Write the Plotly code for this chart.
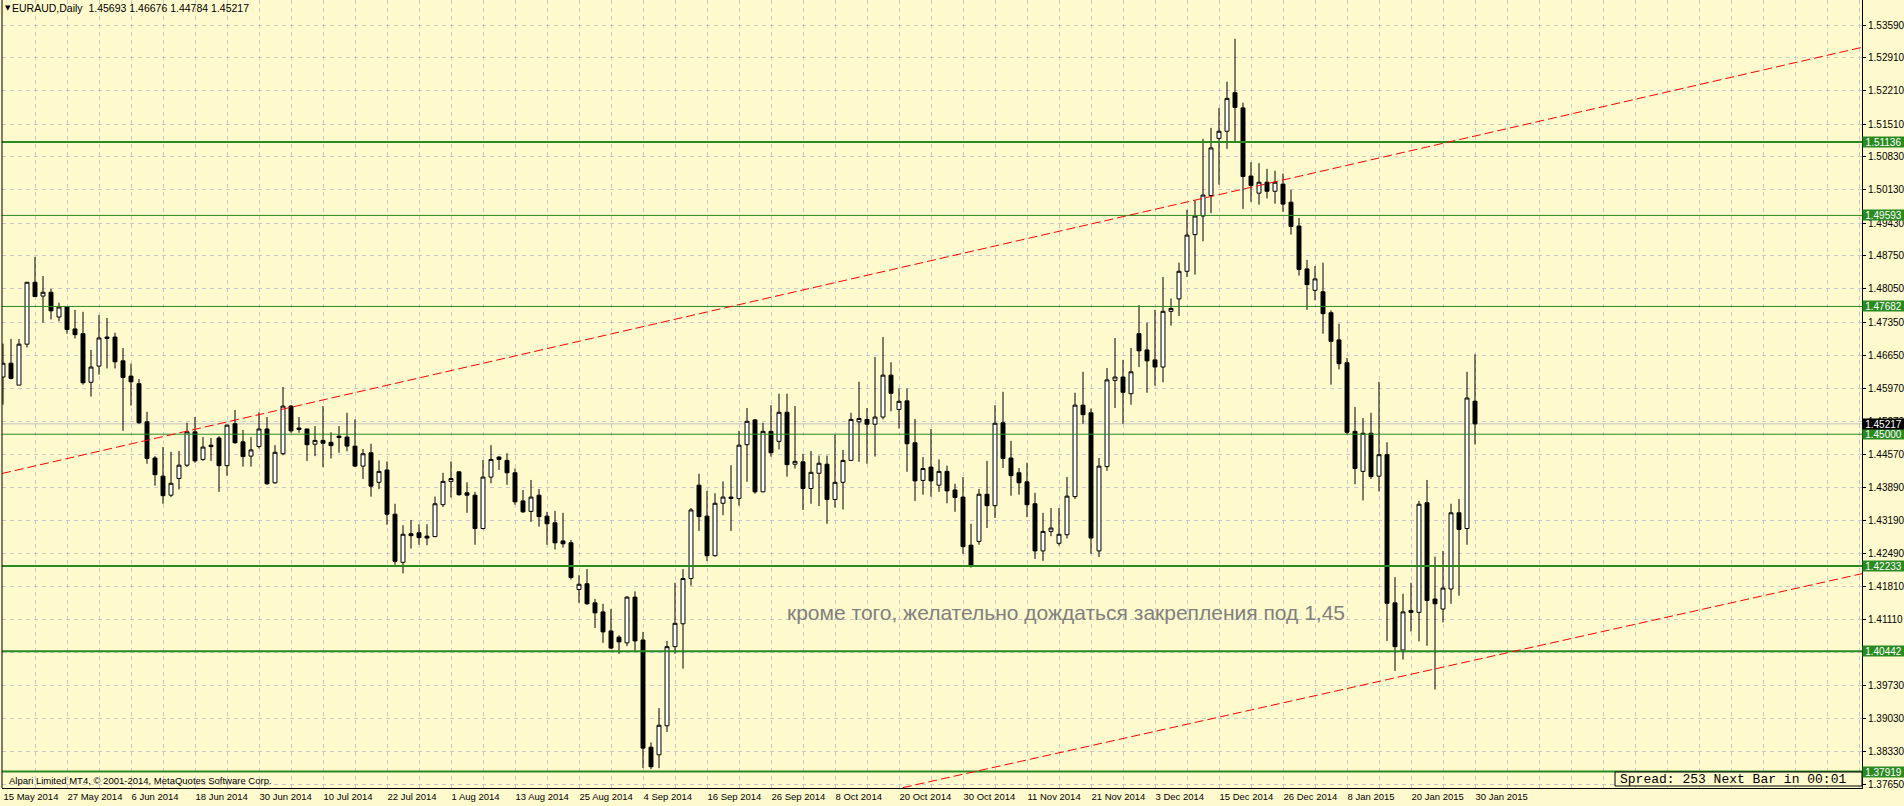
import plotly.graph_objects as go

# ---------------- data (EURAUD daily) ----------------
opens = [1.4620, 1.4649, 1.4603, 1.4689, 1.4819, 1.4790, 1.4798, 1.4746, 1.4768, 1.4721,
         1.4711, 1.4609, 1.4643, 1.4704, 1.4704, 1.4654, 1.4622, 1.4606, 1.4526, 1.4450,
         1.4412, 1.4372, 1.4407, 1.4435, 1.4505, 1.4447, 1.4477, 1.4492, 1.4434, 1.4522,
         1.4484, 1.4454, 1.4474, 1.4511, 1.4398, 1.4459, 1.4559, 1.4513, 1.4511, 1.4479,
         1.4487, 1.4483, 1.4496, 1.4494, 1.4475, 1.4433, 1.4461, 1.4399, 1.4425, 1.4332,
         1.4231, 1.4291, 1.4293, 1.4286, 1.4285, 1.4352, 1.4401, 1.4421, 1.4377, 1.4372,
         1.4302, 1.4410, 1.4452, 1.4445, 1.4419, 1.4360, 1.4338, 1.4372, 1.4328, 1.4314,
         1.4276, 1.4272, 1.4174, 1.4186, 1.4146, 1.4127, 1.4087, 1.4074, 1.4062, 1.4158,
         1.4068, 1.3843, 1.3827, 1.3888, 1.4054, 1.4102, 1.4197, 1.4393, 1.4328, 1.4245,
         1.4355, 1.4368, 1.4365, 1.4478, 1.4530, 1.4379, 1.4506, 1.4485, 1.4546, 1.4437,
         1.4442, 1.4386, 1.4418, 1.4437, 1.4363, 1.4399, 1.4445, 1.4526, 1.4531, 1.4521,
         1.4536, 1.4624, 1.4552, 1.4570, 1.4482, 1.4403, 1.4431, 1.4393, 1.4422, 1.4383,
         1.4368, 1.4267, 1.4275, 1.4374, 1.4350, 1.4524, 1.4450, 1.4419, 1.4400, 1.4354,
         1.4255, 1.4296, 1.4271, 1.4289, 1.4369, 1.4561, 1.4545, 1.4255, 1.4432, 1.4613,
         1.4620, 1.4585, 1.4711, 1.4677, 1.4656, 1.4641, 1.4758, 1.4784, 1.4842, 1.4919,
         1.4958, 1.5001, 1.5121, 1.5136, 1.5217, 1.5185, 1.5042, 1.5006, 1.5029, 1.5010,
         1.5025, 1.4987, 1.4937, 1.4847, 1.4802, 1.4799, 1.4755, 1.4698, 1.4650, 1.4506,
         1.4422, 1.4502, 1.4412, 1.4457, 1.4146, 1.4047, 1.4130, 1.4126, 1.4356, 1.4154,
         1.4133, 1.4175, 1.4335, 1.4302, 1.45693]
highs = [1.4690, 1.4700, 1.4700, 1.4819, 1.4872, 1.4832, 1.4805, 1.4776, 1.4768, 1.4761,
         1.4757, 1.4677, 1.4750, 1.4744, 1.4713, 1.4681, 1.4648, 1.4616, 1.4547, 1.4454,
         1.4473, 1.4463, 1.4465, 1.4524, 1.4536, 1.4494, 1.4492, 1.4496, 1.4520, 1.4551,
         1.4509, 1.4494, 1.4546, 1.4536, 1.4477, 1.4599, 1.4561, 1.4536, 1.4511, 1.4517,
         1.4559, 1.4504, 1.4517, 1.4545, 1.4531, 1.4469, 1.4480, 1.4445, 1.4443, 1.4354,
         1.4309, 1.4320, 1.4311, 1.4311, 1.4369, 1.4419, 1.4443, 1.4422, 1.4399, 1.4379,
         1.4446, 1.4477, 1.4454, 1.4460, 1.4428, 1.4383, 1.4404, 1.4385, 1.4337, 1.4339,
         1.4335, 1.4278, 1.4204, 1.4217, 1.4154, 1.4144, 1.4133, 1.4078, 1.4160, 1.4170,
         1.4085, 1.3853, 1.3925, 1.4066, 1.4188, 1.4217, 1.4345, 1.4417, 1.4381, 1.4376,
         1.4401, 1.4435, 1.4507, 1.4555, 1.4532, 1.4524, 1.4561, 1.4585, 1.4585, 1.4559,
         1.4459, 1.4465, 1.4455, 1.4455, 1.4499, 1.4467, 1.4545, 1.4610, 1.4555, 1.4662,
         1.4704, 1.4651, 1.4596, 1.4596, 1.4532, 1.4452, 1.4511, 1.4447, 1.4434, 1.4396,
         1.4410, 1.4312, 1.4385, 1.4444, 1.4561, 1.4589, 1.4486, 1.4429, 1.4440, 1.4377,
         1.4335, 1.4345, 1.4345, 1.4410, 1.4587, 1.4631, 1.4554, 1.4450, 1.4639, 1.4702,
         1.4656, 1.4681, 1.4771, 1.4734, 1.4761, 1.4830, 1.4785, 1.4860, 1.4971, 1.4991,
         1.5120, 1.5143, 1.5185, 1.5240, 1.5330, 1.5196, 1.5071, 1.5069, 1.5057, 1.5053,
         1.5047, 1.5013, 1.4954, 1.4866, 1.4853, 1.4860, 1.4760, 1.4732, 1.4660, 1.4557,
         1.4534, 1.4545, 1.4610, 1.4483, 1.4200, 1.4165, 1.4188, 1.4360, 1.4404, 1.4243,
         1.4255, 1.4354, 1.4364, 1.4631, 1.46676]
lows = [1.4562, 1.4615, 1.4603, 1.4682, 1.4788, 1.4734, 1.4741, 1.4737, 1.4711, 1.4701,
        1.4604, 1.4579, 1.4625, 1.4638, 1.4638, 1.4507, 1.4560, 1.4522, 1.4438, 1.4392,
        1.4354, 1.4368, 1.4384, 1.4431, 1.4440, 1.4444, 1.4444, 1.4379, 1.4413, 1.4480,
        1.4432, 1.4432, 1.4470, 1.4394, 1.4396, 1.4456, 1.4503, 1.4503, 1.4444, 1.4454,
        1.4431, 1.4449, 1.4461, 1.4464, 1.4431, 1.4406, 1.4369, 1.4385, 1.4310, 1.4226,
        1.4208, 1.4260, 1.4268, 1.4267, 1.4284, 1.4347, 1.4367, 1.4371, 1.4335, 1.4268,
        1.4300, 1.4397, 1.4425, 1.4394, 1.4352, 1.4335, 1.4316, 1.4306, 1.4268, 1.4258,
        1.4262, 1.4195, 1.4146, 1.4142, 1.4093, 1.4062, 1.4049, 1.4039, 1.4055, 1.4045,
        1.3799, 1.3797, 1.3799, 1.3875, 1.4039, 1.4008, 1.4182, 1.4297, 1.4234, 1.4243,
        1.4330, 1.4297, 1.4350, 1.4400, 1.4375, 1.4378, 1.4453, 1.4468, 1.4411, 1.4428,
        1.4341, 1.4354, 1.4349, 1.4312, 1.4346, 1.4342, 1.4445, 1.4442, 1.4438, 1.4453,
        1.4531, 1.4548, 1.4512, 1.4421, 1.4360, 1.4373, 1.4369, 1.4379, 1.4355, 1.4337,
        1.4249, 1.4220, 1.4268, 1.4303, 1.4324, 1.4429, 1.4371, 1.4373, 1.4326, 1.4238,
        1.4234, 1.4286, 1.4266, 1.4281, 1.4364, 1.4522, 1.4249, 1.4242, 1.4423, 1.4555,
        1.4522, 1.4562, 1.4641, 1.4587, 1.4602, 1.4609, 1.4728, 1.4748, 1.4830, 1.4835,
        1.4905, 1.4964, 1.5024, 1.5099, 1.5114, 1.4973, 1.4988, 1.4982, 1.4995, 1.4984,
        1.4967, 1.4919, 1.4833, 1.4761, 1.4781, 1.4711, 1.4604, 1.4636, 1.4500, 1.4395,
        1.4361, 1.4406, 1.4380, 1.4066, 1.4003, 1.4027, 1.4086, 1.4065, 1.4056, 1.3964,
        1.4105, 1.4144, 1.4161, 1.4268, 1.44784]
closes = [1.4649, 1.4617, 1.4689, 1.4819, 1.4789, 1.4798, 1.4759, 1.4767, 1.4720, 1.4709,
          1.4608, 1.4641, 1.4702, 1.4701, 1.4652, 1.4619, 1.4610, 1.4524, 1.4449, 1.4415,
          1.4371, 1.4397, 1.4435, 1.4505, 1.4444, 1.4473, 1.4474, 1.4434, 1.4519, 1.4482,
          1.4453, 1.4467, 1.4511, 1.4396, 1.4462, 1.4559, 1.4507, 1.4510, 1.4478, 1.4487,
          1.4481, 1.4476, 1.4493, 1.4475, 1.4433, 1.4459, 1.4391, 1.4422, 1.4332, 1.4233,
          1.4290, 1.4287, 1.4283, 1.4282, 1.4354, 1.4401, 1.4407, 1.4373, 1.4372, 1.4302,
          1.4410, 1.4447, 1.4447, 1.4419, 1.4358, 1.4337, 1.4368, 1.4327, 1.4312, 1.4272,
          1.4270, 1.4199, 1.4185, 1.4144, 1.4125, 1.4085, 1.4051, 1.4064, 1.4158, 1.4066,
          1.3841, 1.3802, 1.3889, 1.4054, 1.4103, 1.4197, 1.4341, 1.4327, 1.4245, 1.4355,
          1.4368, 1.4365, 1.4477, 1.4527, 1.4379, 1.4506, 1.4461, 1.4546, 1.4436, 1.4443,
          1.4386, 1.4420, 1.4439, 1.4363, 1.4399, 1.4445, 1.4531, 1.4533, 1.4521, 1.4536,
          1.4624, 1.4586, 1.4569, 1.4480, 1.4402, 1.4428, 1.4402, 1.4422, 1.4381, 1.4367,
          1.4264, 1.4224, 1.4374, 1.4350, 1.4523, 1.4449, 1.4413, 1.4398, 1.4352, 1.4255,
          1.4296, 1.4303, 1.4290, 1.4370, 1.4561, 1.4541, 1.4282, 1.4433, 1.4614, 1.4620,
          1.4588, 1.4631, 1.4675, 1.4654, 1.4641, 1.4758, 1.4764, 1.4842, 1.4918, 1.4958,
          1.5002, 1.5101, 1.5136, 1.5205, 1.5186, 1.5041, 1.5022, 1.5029, 1.5010, 1.5029,
          1.4983, 1.4936, 1.4846, 1.4814, 1.4826, 1.4753, 1.4695, 1.4648, 1.4504, 1.4428,
          1.4502, 1.4411, 1.4457, 1.4145, 1.4054, 1.4127, 1.4126, 1.4353, 1.4151, 1.4144,
          1.4177, 1.4335, 1.4300, 1.4576, 1.45217]

date_labels = ["15 May 2014", "27 May 2014", "6 Jun 2014", "18 Jun 2014", "30 Jun 2014",
               "10 Jul 2014", "22 Jul 2014", "1 Aug 2014", "13 Aug 2014", "25 Aug 2014",
               "4 Sep 2014", "16 Sep 2014", "26 Sep 2014", "8 Oct 2014", "20 Oct 2014",
               "30 Oct 2014", "11 Nov 2014", "21 Nov 2014", "3 Dec 2014", "15 Dec 2014",
               "26 Dec 2014", "8 Jan 2015", "20 Jan 2015", "30 Jan 2015"]
label_every = 8          # bars between date labels
grid_every = 4           # bars between vertical grid lines

price_ticks = [1.53590, 1.52910, 1.52210, 1.51510, 1.50830, 1.50130, 1.49430, 1.48750,
               1.48050, 1.47350, 1.46650, 1.45970, 1.45270, 1.44570, 1.43890, 1.43190,
               1.42490, 1.41810, 1.41110, 1.40420, 1.39730, 1.39030, 1.38330, 1.37650]

level_prices = [1.51136, 1.49593, 1.47682, 1.45000, 1.42233, 1.40442, 1.37919]
level_thick = [True, False, False, False, True, True, True]
bid_price = 1.45217

upper_trend = [(0, 1.4418), (184, 1.5126)]
lower_trend = [(113, 1.3760), (184, 1.4026)]

header = "EURAUD,Daily  1.45693 1.46676 1.44784 1.45217"
copyright_text = "Alpari Limited MT4, \u00a9 2001-2014, MetaQuotes Software Corp."
spread_text = "Spread: 253 Next Bar in 00:01"
note_text = "кроме того, желательно дождаться закрепления под 1,45"
note_pos = (132.9, 1.4125)

# ---------------- styling ----------------
W, H = 1904, 806
ML, MR, MT, MB = 2, 42, 0, 18
BG = "#FFFACD"
GRID = "#C8C8CC"
GREEN = "#2A8A22"
FONT = "Liberation Sans"

n = len(closes)
xs = list(range(n))
x_min = -1 / 8
x_max = x_min + (W - ML - MR) / 8
y_min, y_max = 1.37573, 1.54115

fig = go.Figure()
fig.add_trace(go.Candlestick(
    x=xs, open=opens, high=highs, low=lows, close=closes,
    increasing=dict(line=dict(color="black", width=1), fillcolor="white"),
    decreasing=dict(line=dict(color="black", width=1), fillcolor="black"),
    whiskerwidth=0, showlegend=False, hoverinfo="skip"))

n_grid = int(x_max) + 1
major_vals = [i for i in range(0, n_grid, label_every)]
major_text = [date_labels[k] if k < len(date_labels) else "" for k in range(len(major_vals))]
minor_vals = [i for i in range(grid_every, n_grid, label_every)]

shapes = []
# horizontal level lines
for p, thick in zip(level_prices, level_thick):
    shapes.append(dict(type="line", xref="paper", x0=0, x1=1, yref="y", y0=p, y1=p,
                       line=dict(color=GREEN, width=2 if thick else 1), layer="above"))
# bid line
shapes.append(dict(type="line", xref="paper", x0=0, x1=1, yref="y", y0=bid_price, y1=bid_price,
                   line=dict(color="#C0C0C0", width=1), layer="below"))


def trend_shape(pts):
    (xa, ya), (xb, yb) = pts
    k = (yb - ya) / (xb - xa)
    return dict(type="line", xref="x", yref="y", x0=x_min, x1=x_max,
                y0=ya + k * (x_min - xa), y1=ya + k * (x_max - xa),
                line=dict(color="#FF0000", width=1, dash="9px,4px"), layer="above")


shapes.append(trend_shape(upper_trend))
shapes.append(trend_shape(lower_trend))
# left border
shapes.append(dict(type="line", xref="paper", x0=0, x1=0, yref="paper", y0=0, y1=1,
                   line=dict(color="black", width=1)))
# spread box
PW = W - ML - MR
PH = H - MT - MB
shapes.append(dict(type="rect", xref="paper", yref="paper",
                   x0=(1615 - ML) / PW, x1=1.0, y0=(PH - 786) / PH, y1=(PH - 772) / PH,
                   line=dict(color="black", width=1), fillcolor=BG, layer="above"))

annotations = []
for p in level_prices:
    annotations.append(dict(xref="paper", x=1, xanchor="left", yref="y", y=p, yanchor="middle",
                            text=f"{p:.5f}", showarrow=False, bgcolor=GREEN, width=41, height=10,
                            borderpad=0, font=dict(family=FONT, size=10, color="white")))
annotations.append(dict(xref="paper", x=1, xanchor="left", yref="y", y=bid_price, yanchor="middle",
                        text=f"{bid_price:.5f}", showarrow=False, bgcolor="black", width=41, height=10,
                        borderpad=0, font=dict(family=FONT, size=10, color="white")))
# header
annotations.append(dict(xref="paper", yref="paper", x=0, y=1, xanchor="left", yanchor="middle",
                        xshift=1, yshift=-8, text="\u25BC", showarrow=False,
                        font=dict(family="DejaVu Sans", size=7, color="black")))
annotations.append(dict(xref="paper", yref="paper", x=0, y=1, xanchor="left", yanchor="middle",
                        xshift=8, yshift=-8, text=header, showarrow=False,
                        font=dict(family=FONT, size=10.5, color="black")))
annotations.append(dict(xref="paper", yref="paper", x=0, y=0, xanchor="left", yanchor="middle",
                        xshift=5, yshift=(PH - 780), text=copyright_text, showarrow=False,
                        font=dict(family=FONT, size=9.5, color="black")))
annotations.append(dict(xref="paper", yref="paper", x=(1618 - ML) / PW, y=(PH - 779) / PH,
                        xanchor="left", yanchor="middle", text=spread_text, showarrow=False,
                        font=dict(family="Liberation Mono", size=13, color="black")))
annotations.append(dict(xref="x", yref="y", x=note_pos[0], y=note_pos[1], xanchor="center",
                        yanchor="middle", text=note_text, showarrow=False,
                        font=dict(family=FONT, size=21, color="#808080")))

fig.update_layout(
    width=W, height=H, margin=dict(l=ML, r=MR, t=MT, b=MB, pad=0),
    paper_bgcolor=BG, plot_bgcolor=BG,
    shapes=shapes, annotations=annotations,
    boxgap=0.3, boxgroupgap=0.3,
    xaxis=dict(range=[x_min, x_max], rangeslider=dict(visible=False),
               tickmode="array", tickvals=major_vals, ticktext=major_text,
               ticklabelposition="outside right",
               showgrid=True, gridcolor=GRID, griddash="4px,4px", gridwidth=1,
               minor=dict(tickvals=minor_vals, showgrid=True, gridcolor=GRID,
                          griddash="4px,4px", gridwidth=1),
               showline=True, linecolor="black", linewidth=1, ticks="", zeroline=False,
               tickfont=dict(family=FONT, size=9.5, color="black"), fixedrange=True),
    yaxis=dict(range=[y_min, y_max], side="right", tickmode="array", tickvals=price_ticks,
               ticktext=[f"{v:.5f}" for v in price_ticks],
               showgrid=True, gridcolor=GRID, griddash="4px,4px", gridwidth=1,
               showline=True, linecolor="black", linewidth=1, ticks="outside", ticklen=3,
               tickcolor="black", zeroline=False,
               tickfont=dict(family=FONT, size=10, color="black"), fixedrange=True),
)

fig.write_html("out.html")
